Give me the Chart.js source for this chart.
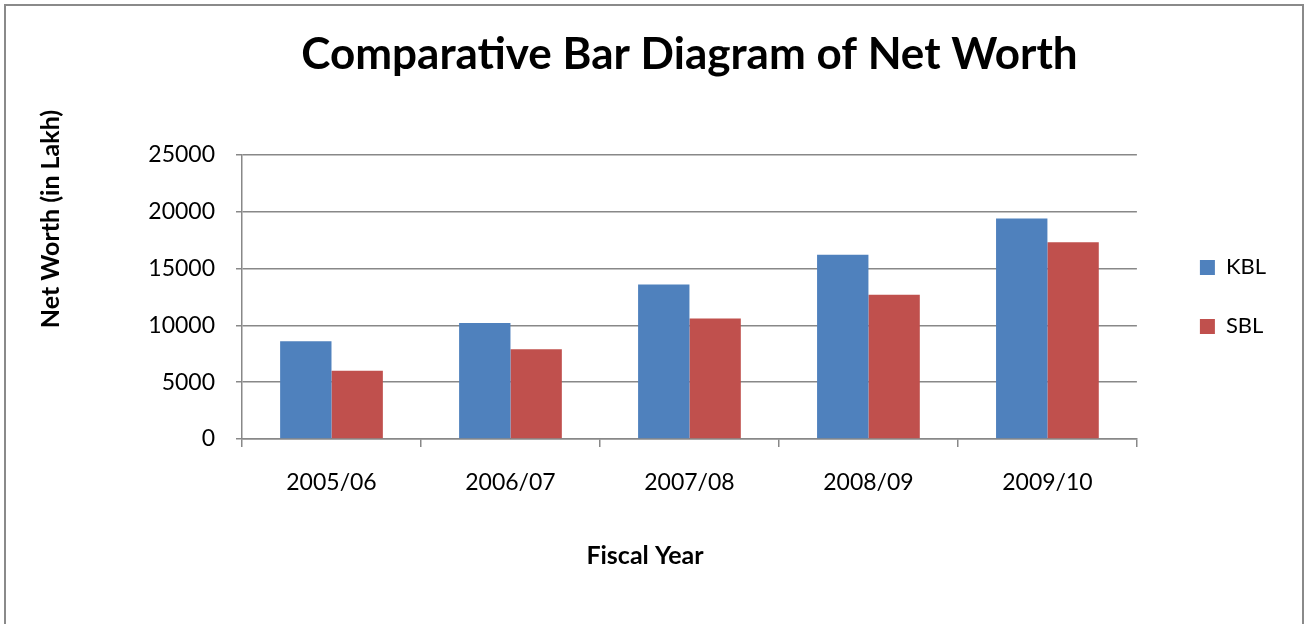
<!DOCTYPE html>
<html>
<head>
<meta charset="utf-8">
<script src="https://cdn.jsdelivr.net/npm/chart.js@4"></script>
<style>
  body { margin: 0; background: #fff; overflow: hidden; }
  #wrap { position: relative; width: 1305px; height: 624px; }
  #grafico { position: absolute; left: 0; top: 0; }
  #moldura { position: absolute; left: 4px; top: 4px; width: 1296px; height: 700px; border: 2px solid #8a8a8a; pointer-events: none; }
</style>
</head>
<body>
<div id="wrap">
  <canvas id="grafico" width="1305" height="624"></canvas>
  <div id="moldura"></div>
</div>
<script>
const anos = ['2005/06', '2006/07', '2007/08', '2008/09', '2009/10']
const kbl = [8600, 10200, 13600, 16200, 19400]
const sbl = [6000, 7900, 10600, 12700, 17300]
const yMax = 25000
const yPasso = 5000
const tituloX = 'Fiscal Year'
const tituloY = 'Net Worth (in Lakh)'

const fonte = 'Lato'
const cinza = '#888888'

Chart.defaults.font.family = fonte
Chart.defaults.color = '#000'

// titulos dos eixos ficam fora do centro no original, entao desenho aqui
const titulosEixos = {
  id: 'titulosEixos',
  afterDraw(chart) {
    const c = chart.ctx
    c.save()
    c.fillStyle = '#000'
    c.font = 'bold 25px ' + fonte
    c.textAlign = 'center'
    c.textBaseline = 'middle'
    c.fillText(tituloX, 645, 556)
    c.translate(51, 219)
    c.rotate(-Math.PI / 2)
    c.fillText(tituloY, 0, 0)
    c.restore()
  }
}

const grafico = document.getElementById('grafico')

let ctx = new Chart(grafico, {
  type: 'bar',
  data: {
    labels: anos,
    datasets: [
      { label: 'KBL', data: kbl, backgroundColor: '#4F81BD', borderWidth: 0 },
      { label: 'SBL', data: sbl, backgroundColor: '#C0504D', borderWidth: 0 }
    ]
  },
  options: {
    responsive: false,
    animation: false,
    devicePixelRatio: 1,
    layout: { padding: { left: 0, right: 29, top: 0, bottom: 0 } },
    datasets: { bar: { categoryPercentage: 0.574, barPercentage: 1 } },
    plugins: {
      title: {
        display: true,
        text: 'Comparative Bar Diagram of Net Worth',
        fullSize: false,
        color: '#000',
        font: { size: 44, weight: 'bold' },
        padding: { top: 28, bottom: 74 }
      },
      legend: {
        position: 'right',
        fullSize: false,
        labels: {
          boxWidth: 15,
          boxHeight: 15,
          padding: 37,
          color: '#000',
          font: { size: 22 }
        }
      },
      tooltip: { enabled: false }
    },
    scales: {
      x: {
        grid: { drawOnChartArea: false, tickLength: 8, color: cinza, lineWidth: 1.5 },
        border: { color: cinza, width: 1.5 },
        ticks: { padding: 22, font: { size: 23 }, color: '#000' },
        afterFit: s => { s.height = 185 }
      },
      y: {
        min: 0,
        max: yMax,
        grid: { tickLength: 6, color: cinza, lineWidth: 1.5 },
        border: { color: cinza, width: 1.5 },
        ticks: { stepSize: yPasso, padding: 21, font: { size: 23 }, color: '#000', callback: v => String(v) },
        afterFit: s => { s.width = 242 }
      },
      folga: {
        type: 'linear',
        position: 'right',
        display: true,
        grid: { display: false },
        border: { display: false },
        ticks: { display: false },
        afterFit: s => { s.width = 26 }
      }
    }
  },
  plugins: [titulosEixos]
})
</script>
</body>
</html>
